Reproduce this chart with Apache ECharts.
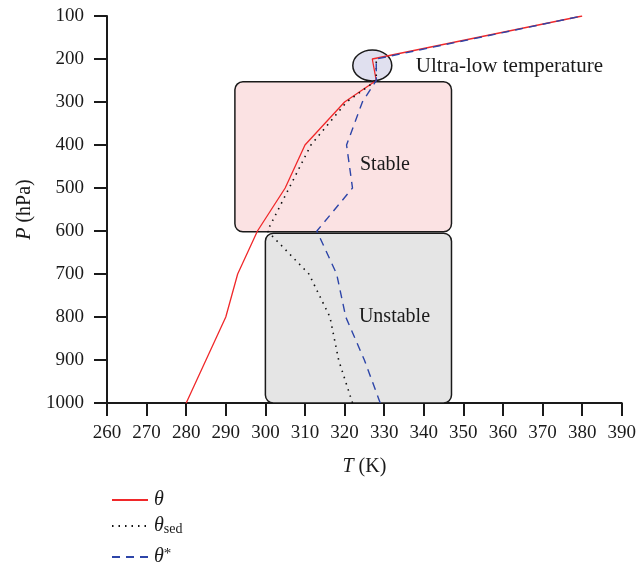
<!DOCTYPE html>
<html>
<head>
<meta charset="utf-8">
<script src="https://cdn.jsdelivr.net/npm/echarts@6/dist/echarts.min.js"></script>
<style>
  html, body { margin: 0; padding: 0; background: #fff; }
  #main { width: 639px; height: 569px; }
</style>
</head>
<body>
<div id="main"></div>
<script>
// theta profile (T in K at pressure levels in hPa)
let thetaP = [1000, 800, 700, 600, 500, 400, 300, 250, 200, 100]
let thetaT = [280, 290, 293, 298, 305, 310, 320, 328, 327, 380]

// theta_sed
let sedP = [1000, 900, 800, 700, 600, 500, 400, 300, 250, 200]
let sedT = [322, 318.5, 316.3, 311, 300.5, 306, 311.5, 320.5, 328, 328]

// theta*
let starP = [1000, 900, 800, 700, 600, 500, 400, 300, 250, 200, 100]
let starT = [329, 325, 320.3, 318, 313, 322, 320.5, 324.5, 328, 328, 380]

let tempTicks = [260, 390, 10]
let presTicks = [100, 1000, 100]

const font = 'Liberation Serif'
const ink = '#1a1a1a'

let pairs = (t, p) => t.map((v, i) => [v, p[i]])

let chart = echarts.init(document.getElementById('main'))

let legendRich = {
  it: { fontFamily: font, fontStyle: 'italic', fontSize: 20, color: ink, padding: [0, 0, 0, 1] },
  sub: { fontFamily: font, fontSize: 14, color: ink, verticalAlign: 'bottom', lineHeight: 13 },
  sup: { fontFamily: font, fontSize: 15, color: ink, verticalAlign: 'top', lineHeight: 14 }
}
let legendLabel = {
  theta: '{it|θ}',
  sed: '{it|θ}{sub|sed}',
  star: '{it|θ}{sup|*}'
}
let mkLegend = (name, top) => ({
  data: [name],
  left: 106,
  top: top,
  itemWidth: 36,
  itemHeight: 14,
  selectedMode: false,
  itemStyle: { opacity: 0 },
  formatter: n => legendLabel[n],
  textStyle: { rich: legendRich }
})

let nameStyle = {
  fontFamily: font, fontSize: 20, color: ink,
  rich: { it: { fontFamily: font, fontStyle: 'italic', fontSize: 20, color: ink } }
}

chart.setOption({
  animation: false,
  grid: { left: 107, right: 16, top: 16, bottom: 166 },
  xAxis: {
    type: 'value',
    min: tempTicks[0], max: tempTicks[1], interval: tempTicks[2],
    name: '{it|T} (K)',
    nameLocation: 'middle',
    nameGap: 54,
    nameTextStyle: nameStyle,
    axisLine: { onZero: false, lineStyle: { color: ink, width: 2 } },
    axisTick: { length: 13, lineStyle: { color: ink, width: 2 } },
    axisLabel: { fontFamily: font, fontSize: 19, color: ink, margin: 21, formatter: v => String(v) },
    splitLine: { show: false }
  },
  yAxis: {
    type: 'value',
    inverse: true,
    min: presTicks[0], max: presTicks[1], interval: presTicks[2],
    name: '{it|P} (hPa)',
    nameLocation: 'middle',
    nameGap: 66,
    nameRotate: 90,
    nameTextStyle: nameStyle,
    axisLine: { onZero: false, lineStyle: { color: ink, width: 2 } },
    axisTick: { length: 13, lineStyle: { color: ink, width: 2 } },
    axisLabel: { fontFamily: font, fontSize: 19, color: ink, margin: 23, formatter: v => String(v) },
    splitLine: { show: false }
  },
  legend: [
    mkLegend('theta', 485),
    mkLegend('sed', 511),
    mkLegend('star', 542)
  ],
  series: [
    {
      name: 'theta', type: 'line', symbol: 'none', z: 3,
      data: pairs(thetaT, thetaP),
      lineStyle: { color: '#f0282a', width: 1.3 },
      itemStyle: { color: '#f0282a' }
    },
    {
      name: 'sed', type: 'line', symbol: 'none', z: 4,
      data: pairs(sedT, sedP),
      lineStyle: { color: '#111', width: 1.6, type: [1.5, 5] },
      itemStyle: { color: '#111' }
    },
    {
      name: 'star', type: 'line', symbol: 'none', z: 5,
      data: pairs(starT, starP),
      lineStyle: { color: '#2d45a8', width: 1.4, type: [8, 6] },
      itemStyle: { color: '#2d45a8' }
    }
  ]
})

// annotation shapes drawn behind the profiles, placed through the axes
let px = (t, p) => chart.convertToPixel({ gridIndex: 0 }, [t, p])
let box = (t0, p0, t1, p1, fill) => {
  let a = px(t0, p0), b = px(t1, p1)
  return {
    type: 'rect', z: 1,
    shape: { x: a[0], y: a[1], width: b[0] - a[0], height: b[1] - a[1], r: 8 },
    style: { fill: fill, stroke: ink, lineWidth: 1.5 }
  }
}
let label = (t, p, text, align, size) => {
  let c = px(t, p)
  return {
    type: 'text', z: 6, x: c[0], y: c[1],
    style: { text: text, font: size + 'px "Liberation Serif"', fill: ink, align: align, verticalAlign: 'middle' }
  }
}
let ec = px(327, 215)

chart.setOption({
  graphic: [
    box(292.3, 253, 347, 602, '#fbe2e3'),
    box(300, 605, 347, 1000, '#e5e5e5'),
    {
      type: 'ellipse', z: 1,
      shape: { cx: ec[0], cy: ec[1], rx: 19.5, ry: 15.5 },
      style: { fill: '#e0e0ef', stroke: ink, lineWidth: 1.5 }
    },
    label(330.2, 447, 'Stable', 'center', 20),
    label(332.6, 800, 'Unstable', 'center', 20),
    label(338, 217, 'Ultra-low temperature', 'left', 21)
  ]
})
</script>
</body>
</html>
